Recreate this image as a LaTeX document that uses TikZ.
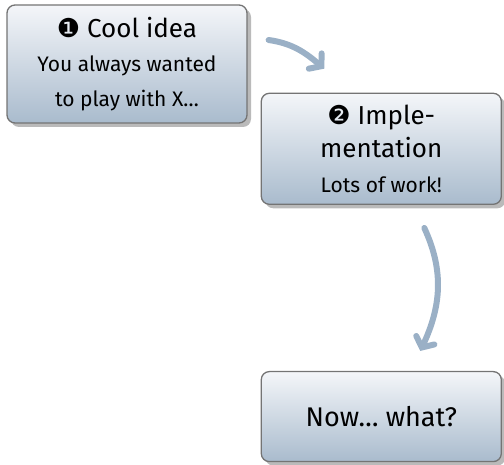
\documentclass[tikz,border=0pt]{standalone}
\usepackage{fontspec}
\setmainfont{Fira Sans}
\newfontfamily\dingfont{DejaVu Sans}
\usetikzlibrary{positioning, shadows, arrows.meta}

\definecolor{boxtop}{HTML}{F4F6F9}
\definecolor{boxbottom}{HTML}{A9BBCD}
\definecolor{boxline}{HTML}{747474}
\definecolor{flowblue}{HTML}{9AB0C6}

\newcommand{\stagetitle}{\fontsize{26}{35}\selectfont}
\newcommand{\stagebody}{\fontsize{21}{35}\selectfont}

\begin{document}
\begin{tikzpicture}[x=1pt, y=1pt,
    stagebox/.style={draw=boxline, line width=1.3pt, rounded corners=8pt,
        top color=boxtop, bottom color=boxbottom,
        drop shadow={shadow xshift=4pt, shadow yshift=-4pt, fill=black!27, opacity=1},
        align=center, font=\stagebody, minimum width=240pt, inner sep=0pt},
    flow/.style={draw=flowblue, line width=6pt, line cap=round,
        -{Straight Barb[length=8pt, width=20pt, line cap=round]}}]
        \useasboundingbox (0,0) rectangle (504,464);

        % Stages
        \node[stagebox, minimum height=118pt] (idea) at (127,400)
            {\stagetitle{\dingfont ❶} Cool idea\\[-1pt] You always wanted\\ to play with X…};
        \node[stagebox, minimum height=111pt, below right=-31pt and 13pt of idea] (impl)
            {\stagetitle{\dingfont ❷} Imple-\\[-2pt] \stagetitle mentation\\ Lots of work!};
        \node[stagebox, minimum height=90pt, below=166pt of impl] (now)
            {\fontsize{27}{35}\selectfont Now… what?};

        % Flow arrows
        \draw[flow] ([xshift=21pt, yshift=24pt]idea.east) to[out=-8, in=140] ([xshift=-57pt, yshift=24pt]impl.north);
        \draw[flow] ([xshift=43pt, yshift=-23pt]impl.south) to[out=-65, in=65] ([xshift=39pt, yshift=20pt]now.north);
\end{tikzpicture}
\end{document}
